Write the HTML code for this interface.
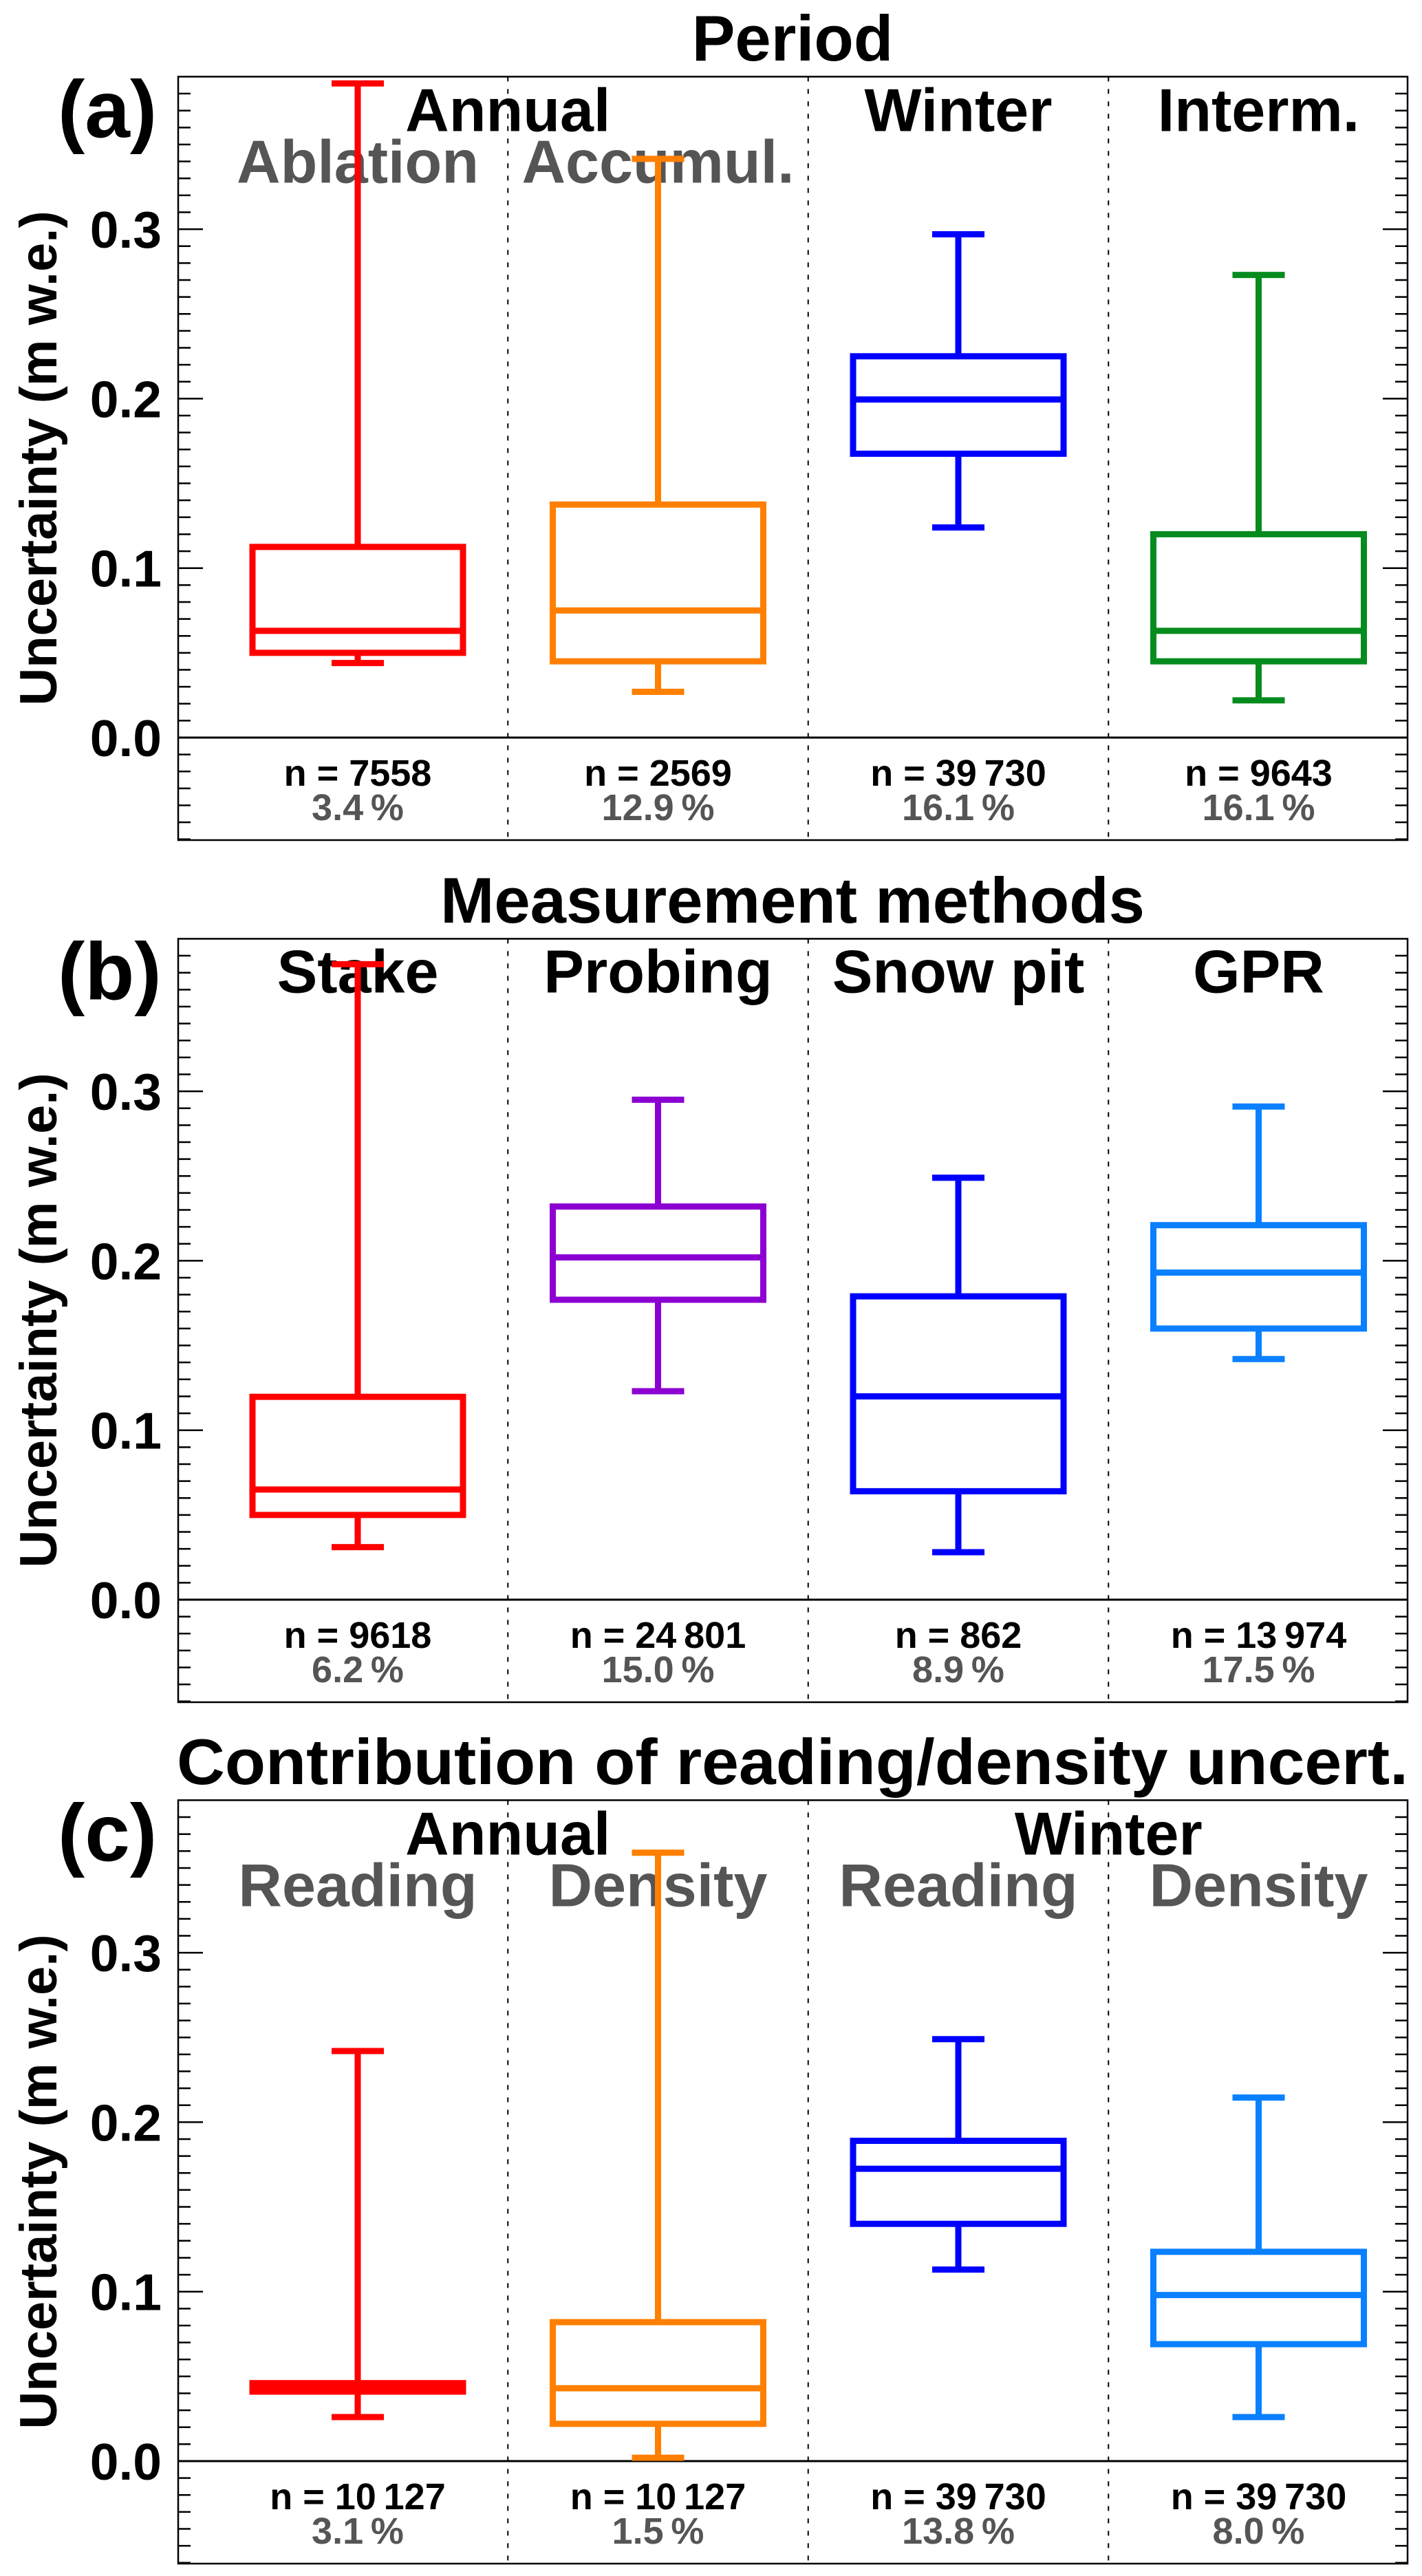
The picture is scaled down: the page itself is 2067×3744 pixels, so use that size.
<!DOCTYPE html>
<html><head><meta charset="utf-8">
<style>
html,body{margin:0;padding:0;background:#fff;}
svg{display:block;}
text{font-family:"Liberation Sans",Arial,sans-serif;font-weight:bold;}
</style></head>
<body>
<svg id="fig" xmlns="http://www.w3.org/2000/svg" width="2067" height="3744" viewBox="0 0 2067 3744"></svg>
<script>
// ---- data ----
const panelTitles = ["Period", "Measurement methods", "Contribution of reading/density uncert."];
const panelLetters = ["(a)", "(b)", "(c)"];
const catsA = ["Ablation", "Accumul.", "Winter", "Interm."];
const catsB = ["Stake", "Probing", "Snow pit", "GPR"];
const catsC = ["Reading", "Density", "Reading", "Density"];
const colorsA = ["#ff0000", "#ff7f00", "#0000ff", "#068c1e"];
const colorsB = ["#ff0000", "#8c00d2", "#0000ff", "#0a80ff"];
const colorsC = ["#ff0000", "#ff7f00", "#0000ff", "#0a80ff"];
// [whiskerLow, q1, median, q3, whiskerHigh]
const statsA = [[0.044,0.050,0.063,0.1125,0.386],[0.027,0.045,0.075,0.1375,0.3415],[0.124,0.1675,0.1995,0.225,0.297],[0.022,0.045,0.063,0.120,0.273]];
const statsB = [[0.031,0.050,0.065,0.1197,0.375],[0.123,0.177,0.202,0.232,0.295],[0.028,0.064,0.120,0.179,0.249],[0.142,0.160,0.193,0.221,0.291]];
const statsC = [[0.026,0.041,0.044,0.046,0.242],[0.002,0.022,0.043,0.082,0.359],[0.113,0.140,0.1725,0.189,0.249],[0.026,0.069,0.098,0.1235,0.2145]];
const countsA = ["n = 7558","n = 2569","n = 39\u2009730","n = 9643"];
const countsB = ["n = 9618","n = 24\u2009801","n = 862","n = 13\u2009974"];
const countsC = ["n = 10\u2009127","n = 10\u2009127","n = 39\u2009730","n = 39\u2009730"];
const pctA = ["3.4\u2009%","12.9\u2009%","16.1\u2009%","16.1\u2009%"];
const pctB = ["6.2\u2009%","15.0\u2009%","8.9\u2009%","17.5\u2009%"];
const pctC = ["3.1\u2009%","1.5\u2009%","13.8\u2009%","8.0\u2009%"];
const yTicks = [0.0, 0.1, 0.2, 0.3];
const yTickLabels = ["0.0", "0.1", "0.2", "0.3"];

const NS = "http://www.w3.org/2000/svg";
const svg = document.getElementById("fig");
const X0 = 259, X1 = 2046, YMIN = -0.0605, YMAX = 0.390;
const zeros = [1072, 2325, 3577];
const PXPER = 2463; // px per unit
function xs(i){ return 520 + 436.5*i; }
function mk(tag, attrs, parent){ const e=document.createElementNS(NS,tag); for(const k in attrs) e.setAttribute(k,attrs[k]); (parent||svg).appendChild(e); return e; }
function txt(s, attrs, parent){ const e=mk("text",attrs,parent); e.textContent=s; return e; }

const panels = [
 {stats:statsA, colors:colorsA, counts:countsA, pct:pctA, cats:catsA},
 {stats:statsB, colors:colorsB, counts:countsB, pct:pctB, cats:catsB},
 {stats:statsC, colors:colorsC, counts:countsC, pct:pctC, cats:catsC}
];

panels.forEach((p, pi) => {
  const Z = zeros[pi];
  const ys = v => Z - v*PXPER;
  const top = ys(YMAX), bot = ys(YMIN);
  const g = mk("g", {});
  
  

  const t = txt(panelTitles[pi], {x:1152, y:Z-984, "font-size":94, "text-anchor":"middle"}, g);
  if (pi===2) { t.setAttribute("textLength", 1790); t.setAttribute("lengthAdjust","spacingAndGlyphs"); }
  
  

  const L = txt(panelLetters[pi], {x:84, y:top+88, "font-size":118}, g);
  
  

  for (let i=0;i<3;i++){
    const xm = (xs(i)+xs(i+1))/2;
    const d = mk("line",{x1:xm,x2:xm,y1:top,y2:bot,stroke:"#000","stroke-width":2,"stroke-dasharray":"7,11"},g);
    
    
  }
  const fr = mk("rect",{x:X0,y:top,width:X1-X0,height:bot-top,fill:"none",stroke:"#000","stroke-width":2.5},g);
  
  
  const zl = mk("line",{x1:X0,x2:X1,y1:Z,y2:Z,stroke:"#000","stroke-width":3},g);
  
  

  for (let k=-6;k<=38;k++){
    const v=k/100, y=ys(v), major=(k%10===0);
    const len = major?36:18;
    mk("line",{x1:X0,x2:X0+len,y1:y,y2:y,stroke:"#000","stroke-width":2.5},g);
    mk("line",{x1:X1-len,x2:X1,y1:y,y2:y,stroke:"#000","stroke-width":2.5},g);
  }
  yTicks.forEach((v,i)=>{
    const tl = txt(yTickLabels[i],{x:235,y:ys(v)+27,"font-size":75,"text-anchor":"end"},g);
    
    
  });
  const yt = txt("Uncertainty (m w.e.)",{x:0,y:0,"font-size":76,"text-anchor":"middle",transform:`translate(82,${Z-406}) rotate(-90)`},g);
  
  

  if (pi===1){
    p.cats.forEach((c,i)=>{
      const cl = txt(c,{x:xs(i),y:top+78,"font-size":88,"text-anchor":"middle"},g);
      
      
    });
  } else {
    const heads = pi===0 ? [["Annual",0.5],["Winter",2],["Interm.",3]] : [["Annual",0.5],["Winter",2.5]];
    heads.forEach(h=>{
      const hl = txt(h[0],{x:xs(h[1]),y:top+79,"font-size":88,"text-anchor":"middle"},g);
      
      
    });
    const subIdx = pi===0 ? [0,1] : [0,1,2,3];
    subIdx.forEach(i=>{
      const sl = txt(p.cats[i],{x:xs(i),y:top+154,"font-size":88,"text-anchor":"middle",fill:"#555"},g);
      
      
    });
  }

  p.stats.forEach((s,i)=>{
    const cx=xs(i), col=p.colors[i], hw=153, cw=38, sw=9;
    const bg = mk("g",{stroke:col,"stroke-width":sw,fill:"none"},g);
    
    
    mk("line",{x1:cx,x2:cx,y1:ys(s[3]),y2:ys(s[4])},bg);
    mk("line",{x1:cx,x2:cx,y1:ys(s[1]),y2:ys(s[0])},bg);
    mk("line",{x1:cx-cw,x2:cx+cw,y1:ys(s[4]),y2:ys(s[4])},bg);
    mk("line",{x1:cx-cw,x2:cx+cw,y1:ys(s[0]),y2:ys(s[0])},bg);
    mk("rect",{x:cx-hw,y:ys(s[3]),width:2*hw,height:Math.max(0.5,ys(s[1])-ys(s[3]))},bg);
    mk("line",{x1:cx-hw,x2:cx+hw,y1:ys(s[2]),y2:ys(s[2])},bg);

    const nt = txt(p.counts[i],{x:cx,y:Z+70,"font-size":54,"text-anchor":"middle"},g);
    
    
    const pt = txt(p.pct[i],{x:cx,y:Z+120,"font-size":54,"text-anchor":"middle",fill:"#555"},g);
    
    
  });
});
</script>
</body></html>
